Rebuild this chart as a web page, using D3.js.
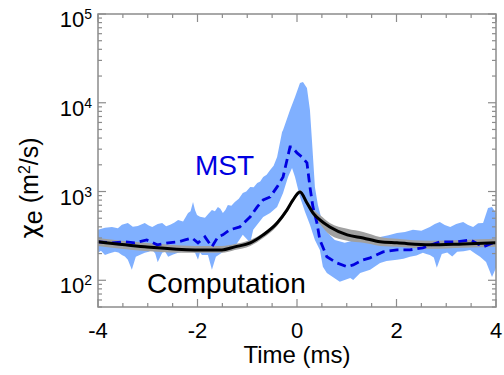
<!DOCTYPE html>
<html>
<head>
<meta charset="utf-8">
<script src="https://cdn.jsdelivr.net/npm/d3@7"></script>
<style>
  body { margin: 0; background: #fff; }
  svg { display: block; font-family: "Liberation Sans", Arial, Helvetica, sans-serif; }
</style>
</head>
<body>
<div id="chart"></div>
<script>
// MST measurement band (upper / lower edge), [time ms, chi_e m^2/s]
const mstUpper = [
  [-4.00, 370], [-3.86, 390], [-3.72, 399], [-3.60, 385], [-3.52, 421], [-3.40, 443],
  [-3.30, 400], [-3.20, 410], [-3.06, 443], [-2.98, 415], [-2.91, 399], [-2.80, 430],
  [-2.71, 443], [-2.63, 405], [-2.55, 421], [-2.47, 445], [-2.39, 479], [-2.29, 460],
  [-2.19, 574], [-2.14, 600], [-2.09, 763], [-2.05, 620], [-2.01, 545], [-1.95, 520],
  [-1.85, 505], [-1.78, 560], [-1.71, 621], [-1.65, 600], [-1.59, 671], [-1.54, 640],
  [-1.49, 574], [-1.44, 620], [-1.39, 707], [-1.32, 690], [-1.25, 763], [-1.17, 830],
  [-1.09, 964], [-1.02, 1000], [-0.94, 1127], [-0.87, 1120], [-0.80, 1250], [-0.74, 1300],
  [-0.68, 1460], [-0.61, 1550], [-0.54, 1750], [-0.47, 1950], [-0.40, 2450], [-0.30, 4690],
  [-0.28, 4940], [-0.14, 8300], [-0.04, 11610], [0.06, 16700], [0.12, 17150], [0.20, 14690],
  [0.26, 8300], [0.30, 3810], [0.36, 1127], [0.42, 707], [0.50, 479], [0.60, 351],
  [0.76, 285], [0.96, 264], [1.17, 285], [1.33, 285], [1.50, 300], [1.67, 308],
  [1.84, 322], [2.01, 342], [2.17, 350], [2.33, 370], [2.50, 362], [2.67, 399],
  [2.77, 430], [2.87, 455], [2.97, 420], [3.08, 399], [3.20, 430], [3.34, 455],
  [3.44, 420], [3.54, 399], [3.64, 440], [3.74, 443], [3.84, 654], [3.92, 671], [4.00, 574]
]
const mstLower = [
  [-4.00, 204], [-3.94, 215], [-3.86, 193], [-3.78, 200], [-3.66, 209], [-3.59, 205],
  [-3.52, 193], [-3.46, 185], [-3.40, 170], [-3.32, 131], [-3.24, 184], [-3.14, 195],
  [-3.06, 204], [-2.98, 210], [-2.91, 220], [-2.85, 200], [-2.80, 160], [-2.71, 204],
  [-2.65, 210], [-2.59, 184], [-2.49, 195], [-2.39, 204], [-2.30, 210], [-2.19, 220],
  [-2.12, 212], [-2.05, 204], [-1.99, 170], [-1.95, 205], [-1.91, 193], [-1.79, 193],
  [-1.71, 131], [-1.63, 184], [-1.51, 204], [-1.39, 220], [-1.25, 238], [-1.09, 325],
  [-0.94, 264], [-0.88, 370], [-0.68, 518], [-0.54, 574], [-0.40, 671], [-0.28, 964],
  [-0.18, 1460], [-0.10, 1845], [-0.04, 1460], [0.06, 869], [0.16, 590], [0.26, 421],
  [0.36, 285], [0.46, 220], [0.52, 142], [0.60, 121], [0.86, 96], [1.07, 106],
  [1.13, 101], [1.27, 121], [1.47, 131], [1.67, 157], [1.80, 165], [2.01, 170],
  [2.14, 175], [2.27, 184], [2.40, 190], [2.53, 204], [2.60, 198], [2.67, 193],
  [2.75, 180], [2.81, 138], [2.91, 198], [3.02, 205], [3.12, 185], [3.22, 209],
  [3.35, 212], [3.48, 220], [3.58, 200], [3.68, 184], [3.80, 161], [3.92, 109], [4.00, 138]
]
// MST mean (dashed)
const mstMean = [
  [-4.00, 271], [-3.72, 264], [-3.46, 271], [-3.26, 264], [-3.02, 285], [-2.81, 251],
  [-2.59, 264], [-2.39, 271], [-2.25, 285], [-2.11, 300], [-1.99, 264], [-1.85, 308],
  [-1.71, 238], [-1.59, 308], [-1.49, 325], [-1.35, 370], [-1.15, 399], [-0.94, 518],
  [-0.80, 671], [-0.68, 804], [-0.54, 869], [-0.40, 1127], [-0.28, 1460], [-0.14, 3180],
  [-0.10, 3180], [0.00, 2720], [0.10, 2450], [0.20, 2100], [0.26, 1127], [0.32, 671],
  [0.40, 443], [0.46, 285], [0.60, 184], [0.80, 157], [1.01, 142], [1.13, 149],
  [1.33, 170], [1.47, 179], [1.73, 209], [2.01, 220], [2.27, 220], [2.53, 232],
  [2.87, 271], [3.22, 271], [3.48, 285], [3.74, 238], [3.94, 264]
]
// Computation: time, value, low, high
const compTime = [-4.00, -3.06, -2.05, -1.51, -1.25, -0.94, -0.68, -0.40, -0.20, -0.08, 0.06,
  0.20, 0.32, 0.46, 0.66, 1.01, 1.33, 1.67, 2.01, 2.67, 3.34, 4.00]
const compValue = [271, 238, 220, 220, 238, 264, 325, 443, 621, 804, 990,
  744, 574, 479, 399, 325, 300, 271, 264, 251, 257, 264]
const compLow = [244, 214, 204, 204, 220, 244, 300, 410, 589, 763, 940,
  707, 531, 432, 325, 278, 264, 244, 238, 226, 232, 238]
const compHigh = [300, 264, 244, 244, 257, 285, 342, 467, 654, 847, 1042,
  804, 637, 545, 443, 380, 351, 308, 293, 278, 285, 293]

const xMajor = [-4, -2, 0, 2, 4]
const xTickLabels = ['-4', '-2', '0', '2', '4']
const yMajor = [1e2, 1e3, 1e4, 1e5]
const yExponents = ['2', '3', '4', '5']

const width = 504, height = 375
const svg = d3.select('#chart').append('svg')
  .attr('width', width).attr('height', height)

const x = d3.scaleLinear().domain([-4, 4]).range([98, 496])
const y = d3.scaleLog().domain([50, 1e5]).range([307, 14])

// blue band as one polygon: upper edge then lower edge reversed
const bandPts = mstUpper.concat(mstLower.slice().reverse())
const poly = d3.line().x(d => x(d[0])).y(d => y(d[1]))
svg.append('path')
  .attr('d', poly(bandPts) + 'Z')
  .attr('fill', '#80b0ff')

const comp = compTime.map((t, i) => ({ t: t, v: compValue[i], lo: compLow[i], hi: compHigh[i] }))

svg.append('path')
  .datum(comp)
  .attr('d', d3.area().x(d => x(d.t)).y0(d => y(d.lo)).y1(d => y(d.hi)).curve(d3.curveMonotoneX))
  .attr('fill', '#a0a0a0')

svg.append('path')
  .datum(mstMean)
  .attr('d', d3.line().x(d => x(d[0])).y(d => y(d[1])))
  .attr('fill', 'none')
  .attr('stroke', '#0000e0')
  .attr('stroke-width', 2.8)
  .attr('stroke-dasharray', '9,5')

svg.append('path')
  .datum(comp)
  .attr('d', d3.line().x(d => x(d.t)).y(d => y(d.v)).curve(d3.curveMonotoneX))
  .attr('fill', 'none')
  .attr('stroke', '#000')
  .attr('stroke-width', 3)

// axes box + inward ticks
const axisColor = '#8c8c8c'
const x0 = x.range()[0], x1 = x.range()[1], yb = y.range()[0], yt = y.range()[1]
svg.append('rect')
  .attr('x', x0).attr('y', yt).attr('width', x1 - x0).attr('height', yb - yt)
  .attr('fill', 'none').attr('stroke', axisColor).attr('stroke-width', 1.5)

const ticks = svg.append('g').attr('stroke', axisColor).attr('stroke-width', 1.2)
const xMinor = d3.range(-4, 4.01, 0.5).filter(v => xMajor.indexOf(v) < 0)
xMajor.concat(xMinor).forEach(v => {
  const len = xMajor.indexOf(v) >= 0 ? 8 : 4
  ticks.append('line').attr('x1', x(v)).attr('x2', x(v)).attr('y1', yb).attr('y2', yb - len)
  ticks.append('line').attr('x1', x(v)).attr('x2', x(v)).attr('y1', yt).attr('y2', yt + len)
})
const yMinor = []
;[10, 100, 1000, 10000].forEach(d => { for (let k = 2; k <= 9; k++) if (k * d >= 50) yMinor.push(k * d) })
yMajor.concat(yMinor).forEach(v => {
  const len = yMajor.indexOf(v) >= 0 ? 8 : 4
  ticks.append('line').attr('x1', x0).attr('x2', x0 + len).attr('y1', y(v)).attr('y2', y(v))
  ticks.append('line').attr('x1', x1).attr('x2', x1 - len).attr('y1', y(v)).attr('y2', y(v))
})

// tick labels
svg.append('g').selectAll('text').data(xMajor).enter().append('text')
  .attr('x', d => x(d)).attr('y', 338)
  .attr('text-anchor', 'middle').attr('font-size', 22)
  .text((d, i) => xTickLabels[i])

const yl = svg.append('g').selectAll('text').data(yMajor).enter().append('text')
  .attr('x', 92).attr('y', d => y(d) + 13)
  .attr('text-anchor', 'end').attr('font-size', 22)
yl.append('tspan').text('10')
yl.append('tspan').attr('dy', -8).attr('font-size', 14).text((d, i) => yExponents[i])

// axis titles
svg.append('text')
  .attr('x', 297).attr('y', 363)
  .attr('text-anchor', 'middle').attr('font-size', 24)
  .text('Time (ms)')

const yt2 = svg.append('text')
  .attr('transform', 'translate(38,188) rotate(-90)')
  .attr('text-anchor', 'middle').attr('font-size', 25)
yt2.append('tspan').attr('font-family', '"DejaVu Sans", sans-serif').text('χ')
yt2.append('tspan').attr('dy', 4).text('e')
yt2.append('tspan').attr('dy', -4).text(' (m')
yt2.append('tspan').attr('dy', -8).attr('font-size', 16).text('2')
yt2.append('tspan').attr('dy', 8).text('/s)')

// annotations
svg.append('text').attr('x', 195).attr('y', 175)
  .attr('font-size', 28).attr('fill', '#0000e0').text('MST')
svg.append('text').attr('x', 147).attr('y', 293)
  .attr('font-size', 28).attr('fill', '#000').text('Computation')
</script>
</body>
</html>
